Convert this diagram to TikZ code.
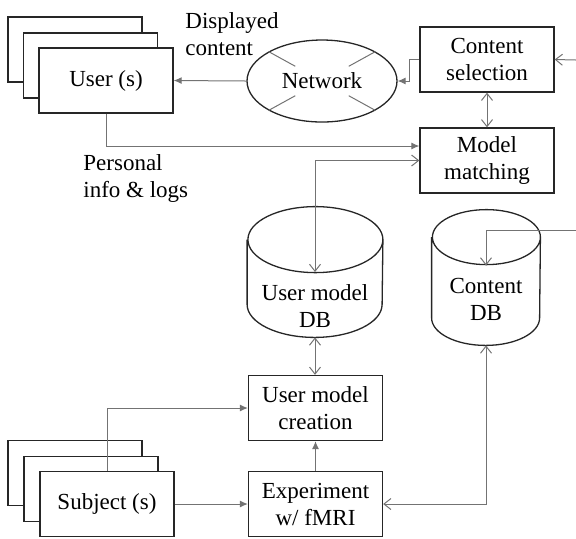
\documentclass[tikz,border=0pt]{standalone}
\usepackage{fontspec}
\setmainfont{Liberation Serif}
\usetikzlibrary{shapes.geometric,arrows.meta,calc}

\tikzset{
  box/.style={draw=black!85, line width=0.65pt, fill=white, minimum width=67pt, minimum height=32.5pt, align=center, inner sep=0pt},
  conn/.style={draw=black!55, line width=0.5pt},
  fillarrow/.style={conn, -{Latex[length=4pt,width=3.5pt]}},
  openarrow/.style={conn, -{Straight Barb[length=3.5pt,width=5.5pt]}},
  bothopen/.style={conn, {Straight Barb[length=3.5pt,width=5.5pt]}-{Straight Barb[length=3.5pt,width=5.5pt]}},
  dbline/.style={draw=black!85, line width=0.65pt},
  dbarea/.style={inner sep=0pt}
}

\begin{document}
\begin{tikzpicture}[x=0.5pt, y=-0.5pt, font=\fontsize{11.5}{13.5}\selectfont]
\useasboundingbox (0,0) rectangle (576,538);

% users (stack of three)
\node[box] (users3) at (75,49.5) {};
\node[box] (users2) at (90.5,65.5) {};
\node[box] (users) at (106,80.5) {User (s)};

\node[draw=black!85, line width=0.65pt, ellipse, minimum width=75pt, minimum height=41pt, inner sep=0pt] (netw) at (322,81) {Network};
\node[box] (csel) at (487,59.5) {Content\\selection};
\node[box] (mmatch) at (487,160.5) {Model\\matching};

\node[anchor=west, align=left, inner sep=0pt] (dispc) at (185,34) {Displayed\\content};
\node[anchor=west, align=left, inner sep=0pt] (pinfo) at (83,178) {Personal\\info \& logs};

% databases
\node[dbarea, minimum width=67.5pt, minimum height=65pt] (umdb) at (315,272) {};
\draw[dbline] ([yshift=-16.5pt]umdb.north west) -- ([yshift=16.5pt]umdb.south west)
  arc[start angle=180, end angle=360, x radius=33.75pt, y radius=16.5pt]
  -- ([yshift=-16.5pt]umdb.north east)
  arc[start angle=0, end angle=180, x radius=33.75pt, y radius=16.5pt]
  arc[start angle=180, end angle=360, x radius=33.75pt, y radius=16.5pt];
\node[align=center] (umdbtext) at (315,306) {User model\\DB};

\node[dbarea, minimum width=54pt, minimum height=67.5pt] (cdb) at (486,277.5) {};
\draw[dbline] ([yshift=-13.75pt]cdb.north west) -- ([yshift=13.75pt]cdb.south west)
  arc[start angle=180, end angle=360, x radius=27pt, y radius=13.75pt]
  -- ([yshift=-13.75pt]cdb.north east)
  arc[start angle=0, end angle=180, x radius=27pt, y radius=13.75pt]
  arc[start angle=180, end angle=360, x radius=27pt, y radius=13.75pt];
\node[align=center] (cdbtext) at (486,299) {Content\\DB};

% subjects (stack of three)
\node[box] (subj3) at (75,473) {};
\node[box] (subj2) at (91,489) {};
\node[box] (subj) at (107,504) {Subject (s)};

\node[box] (umcre) at (315.5,408) {User model\\creation};
\node[box] (exper) at (315.5,504) {Experiment\\w/ fMRI};

\coordinate (cselin) at (576,60);
\coordinate (cdbin) at (576,230);

% marks on the network
\foreach \corner in {north west, north east, south west, south east}
  \draw[conn] ($(netw.center)!0.5!(netw.\corner)$) -- (netw.\corner);

\draw[fillarrow] (netw.west) -- (users.east);
\draw[fillarrow] (csel.west) -- ++(-10,0) |- (netw.east);
\draw[bothopen] (csel.south) -- (mmatch.north);
\draw[fillarrow] (users.south) |- ($(mmatch.west)+(0,-14.5)$);
\draw[bothopen] (mmatch.west) -| (umdb.center);
\draw[openarrow] (cselin) -- (csel.east);
\draw[openarrow] (cdbin) -| ($(cdb.center)+(0,-12)$);
\draw[bothopen] (umdb.south) -- (umdb.south |- umcre.north);
\draw[fillarrow] (subj.north) |- (umcre.west);
\draw[fillarrow] (subj.east) -- (exper.west);
\draw[fillarrow] (exper.north) -- (umcre.south);
\draw[bothopen] (exper.east) -| (cdb.south);
\end{tikzpicture}
\end{document}
